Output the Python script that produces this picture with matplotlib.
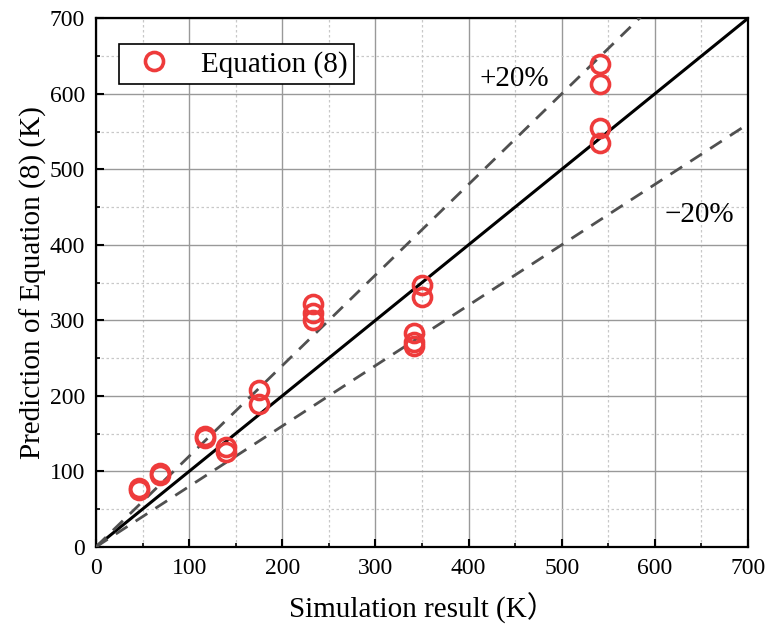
import matplotlib
matplotlib.use("Agg")
import matplotlib.pyplot as plt
from matplotlib.ticker import MultipleLocator

plt.rcParams['font.family'] = ['Liberation Serif', 'Noto Sans CJK SC']

# simulation result (K) vs prediction of Equation (8) (K)
sim_x = [46, 46, 69, 69, 117, 117, 140, 140, 175, 175,
         233, 233, 233, 341, 341, 341, 350, 350, 541, 541, 541, 541]
pred_y = [75, 78, 95, 98, 144, 147, 132, 126, 208, 189,
          322, 310, 301, 283, 271, 266, 347, 331, 640, 613, 555, 535]

ref_line = [0, 700]
band_up = 1.2
band_low = 0.8

fig = plt.figure(figsize=(7.68, 6.3), dpi=100)
ax = fig.add_axes([0.125, 0.132, 0.849, 0.839])

ax.plot(ref_line, ref_line, color='black', lw=2.2, zorder=3)
ax.plot(ref_line, [v * band_up for v in ref_line], color='#505050', lw=2.0,
        ls=(0, (5, 3.5)), zorder=3)
ax.plot(ref_line, [v * band_low for v in ref_line], color='#505050', lw=2.0,
        ls=(0, (5, 3.5)), zorder=3)

ax.plot(sim_x, pred_y, ls='none', marker='o', ms=13, mfc='none',
        mec='#EE3B3B', mew=2.6, label='Equation (8)', zorder=4)

ax.text(449, 620, '+20%', fontsize=21, ha='center', va='center')
ax.text(648, 439, '\u221220%', fontsize=21, ha='center', va='center')

ax.set_xlim(0, 700)
ax.set_ylim(0, 700)
ax.xaxis.set_major_locator(MultipleLocator(100))
ax.yaxis.set_major_locator(MultipleLocator(100))
ax.xaxis.set_minor_locator(MultipleLocator(50))
ax.yaxis.set_minor_locator(MultipleLocator(50))
ax.tick_params(which='major', direction='in', length=6, width=1.5, labelsize=17, pad=8)
ax.tick_params(which='minor', direction='in', length=3, width=1.2)
ax.grid(which='major', color='#999999', lw=1.0)
ax.grid(which='minor', color='#c8c8c8', lw=0.9, ls=(0, (2, 2)))
ax.set_axisbelow(True)
for s in ax.spines.values():
    s.set_linewidth(1.6)

ax.set_xlabel('Simulation result (K\uff09', fontsize=21, labelpad=10)
ax.set_ylabel('Prediction of Equation (8) (K)', fontsize=21, labelpad=2)

leg = ax.legend(loc='upper left', bbox_to_anchor=(0.035, 0.951), fontsize=21,
                fancybox=False, edgecolor='black', framealpha=1,
                handletextpad=0.6, borderpad=0.22, handlelength=2.0,
                borderaxespad=0)
leg.get_frame().set_linewidth(1.2)

fig.savefig('out.png', dpi=100)
